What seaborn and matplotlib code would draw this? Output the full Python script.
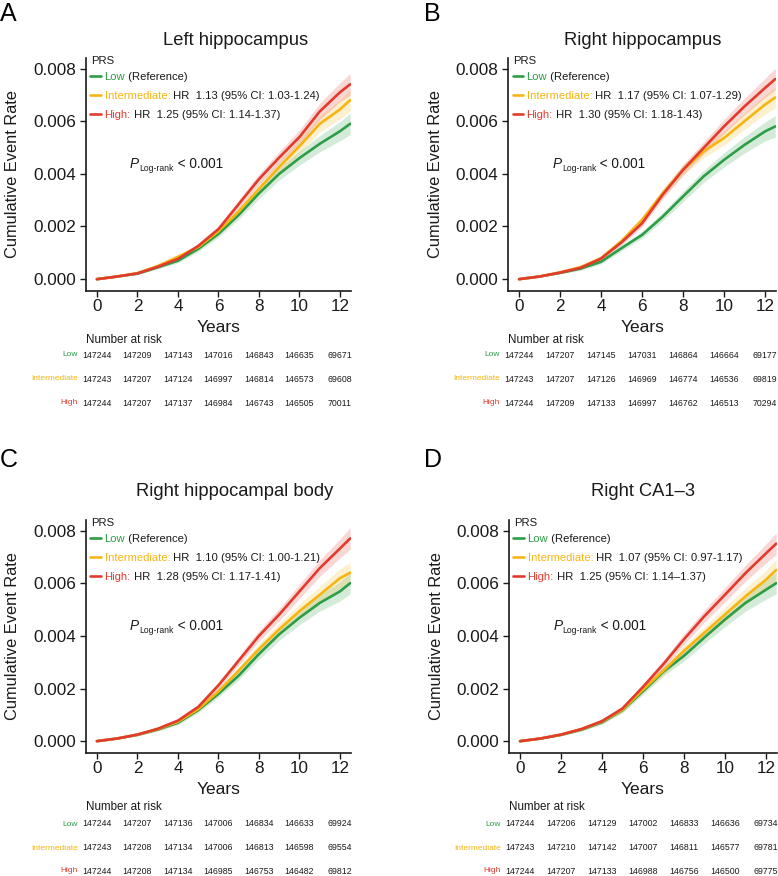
import numpy as np
import pandas as pd
import matplotlib
matplotlib.use("Agg")
import matplotlib.pyplot as plt
import seaborn as sns

sns.set_style("ticks")
plt.rcParams['font.family'] = ['Liberation Sans', 'DejaVu Sans']

# time grid (years)
years = [0, 1, 2, 3, 4, 5, 6, 7, 8, 9, 10, 11, 12, 12.5]
# approximate half-width of the shaded 95% band
ci_half = [0, 0.00002, 0.00004, 0.00006, 0.00008, 0.0001, 0.00013, 0.00016,
           0.0002, 0.00023, 0.00027, 0.00031, 0.00036, 0.00041]

groups = ["Low", "Intermediate", "High"]
colors = {"Low": "#2e9d47", "Intermediate": "#f6b512", "High": "#e23b2e"}
legend_labels = ["Low", "Intermediate:", "High:"]

# A - Left hippocampus
a_low = [0, 0.0001, 0.00021, 0.00045, 0.0007, 0.00115, 0.00172, 0.00244, 0.00326, 0.004, 0.0046, 0.00514, 0.00562, 0.0059]
a_int = [0, 0.0001, 0.00023, 0.0005, 0.00085, 0.00122, 0.00182, 0.00257, 0.00343, 0.00426, 0.00505, 0.0059, 0.00645, 0.0068]
a_high = [0, 0.0001, 0.00022, 0.00047, 0.00077, 0.00126, 0.0019, 0.00285, 0.0038, 0.00462, 0.0054, 0.00637, 0.0071, 0.0074]
a_hr = ["(Reference)", "HR  1.13 (95% CI: 1.03-1.24)", "HR  1.25 (95% CI: 1.14-1.37)"]
a_risk_low = [147244, 147209, 147143, 147016, 146843, 146635, 69671]
a_risk_int = [147243, 147207, 147124, 146997, 146814, 146573, 69608]
a_risk_high = [147244, 147207, 147137, 146984, 146743, 146505, 70011]

# B - Right hippocampus
b_low = [0, 0.0001, 0.00024, 0.0004, 0.00066, 0.00118, 0.00168, 0.00237, 0.00314, 0.0039, 0.00453, 0.0051, 0.00561, 0.0058]
b_int = [0, 0.0001, 0.00026, 0.00046, 0.0008, 0.00145, 0.00225, 0.00326, 0.00415, 0.00485, 0.00536, 0.006, 0.00663, 0.0069]
b_high = [0, 0.0001, 0.00025, 0.00043, 0.00078, 0.0014, 0.00212, 0.0032, 0.00415, 0.00498, 0.0058, 0.00656, 0.00726, 0.0076]
b_hr = ["(Reference)", "HR  1.17 (95% CI: 1.07-1.29)", "HR  1.30 (95% CI: 1.18-1.43)"]
b_risk_low = [147244, 147207, 147145, 147031, 146864, 146664, 69177]
b_risk_int = [147243, 147207, 147126, 146969, 146774, 146536, 69819]
b_risk_high = [147244, 147209, 147133, 146997, 146762, 146513, 70294]

# C - Right hippocampal body
c_low = [0, 0.0001, 0.00024, 0.00044, 0.0007, 0.00118, 0.0018, 0.00249, 0.00331, 0.00406, 0.00469, 0.00525, 0.00569, 0.006]
c_int = [0, 0.0001, 0.00025, 0.00046, 0.00074, 0.00122, 0.00189, 0.00268, 0.0035, 0.00425, 0.00494, 0.00556, 0.00619, 0.0064]
c_high = [0, 0.0001, 0.00025, 0.00047, 0.00078, 0.0013, 0.00212, 0.00306, 0.004, 0.00481, 0.00569, 0.00657, 0.00732, 0.0077]
c_hr = ["(Reference)", "HR  1.10 (95% CI: 1.00-1.21)", "HR  1.28 (95% CI: 1.17-1.41)"]
c_risk_low = [147244, 147207, 147136, 147006, 146834, 146633, 69924]
c_risk_int = [147243, 147208, 147134, 147006, 146813, 146598, 69554]
c_risk_high = [147244, 147208, 147134, 146985, 146753, 146482, 69812]

# D - Right CA1-3
d_low = [0, 0.0001, 0.00024, 0.00044, 0.00072, 0.00118, 0.0019, 0.00264, 0.00324, 0.00394, 0.00462, 0.00525, 0.00575, 0.006]
d_int = [0, 0.0001, 0.00025, 0.00046, 0.00075, 0.0012, 0.00196, 0.00268, 0.00343, 0.00412, 0.00481, 0.0055, 0.00613, 0.0065]
d_high = [0, 0.0001, 0.00025, 0.00046, 0.00076, 0.00124, 0.00206, 0.00293, 0.00387, 0.00475, 0.00556, 0.00638, 0.00713, 0.0075]
d_hr = ["(Reference)", "HR  1.07 (95% CI: 0.97-1.17)", "HR  1.25 (95% CI: 1.14\u20131.37)"]
d_risk_low = [147244, 147206, 147129, 147002, 146833, 146636, 69734]
d_risk_int = [147243, 147210, 147142, 147007, 146811, 146577, 69781]
d_risk_high = [147244, 147207, 147133, 146988, 146756, 146500, 69775]

risk_years = [0, 2, 4, 6, 8, 10, 12]

panels = [
    dict(letter="A", title="Left hippocampus", curves=[a_low, a_int, a_high], hr=a_hr,
         risk=[a_risk_low, a_risk_int, a_risk_high],
         rect=[0.1105, 0.6678, 0.3406, 0.266], title_xy=(0.303, 0.954), letter_xy=(0.0, 0.998),
         rows_px=[340, 355, 379, 403], ylab_x=-0.25),
    dict(letter="B", title="Right hippocampus", curves=[b_low, b_int, b_high], hr=b_hr,
         risk=[b_risk_low, b_risk_int, b_risk_high],
         rect=[0.653, 0.6678, 0.3445, 0.266], title_xy=(0.8265, 0.954), letter_xy=(0.545, 0.998),
         rows_px=[340, 355, 379, 403], ylab_x=-0.243),
    dict(letter="C", title="Right hippocampal body", curves=[c_low, c_int, c_high], hr=c_hr,
         risk=[c_risk_low, c_risk_int, c_risk_high],
         rect=[0.1105, 0.1404, 0.3406, 0.266], title_xy=(0.302, 0.4384), letter_xy=(0.0, 0.489),
         rows_px=[807, 824, 848, 871], ylab_x=-0.25),
    dict(letter="D", title="Right CA1\u20133", curves=[d_low, d_int, d_high], hr=d_hr,
         risk=[d_risk_low, d_risk_int, d_risk_high],
         rect=[0.6542, 0.1404, 0.3445, 0.266], title_xy=(0.8265, 0.4384), letter_xy=(0.545, 0.489),
         rows_px=[807, 824, 848, 871], ylab_x=-0.243),
]

W, H = 778, 876
fig = plt.figure(figsize=(W / 100, H / 100), dpi=100)
ink = "#1a1a1a"
leg_fs = 8.1

for p in panels:
    ax = fig.add_axes(p["rect"])
    rows = []
    for g, vals in zip(groups, p["curves"]):
        for t, v, h in zip(years, vals, ci_half):
            rows.append({"Years": t, "rate": v, "lo": v - h, "hi": v + h, "PRS": g})
    df = pd.DataFrame(rows)

    for g in groups:
        sub = df[df["PRS"] == g]
        ax.fill_between(sub["Years"], sub["lo"], sub["hi"], color=colors[g], alpha=0.2, lw=0)
    sns.lineplot(data=df, x="Years", y="rate", hue="PRS", hue_order=groups, palette=colors,
                 linewidth=1.9, errorbar=None, ax=ax)

    handles, _ = ax.get_legend_handles_labels()
    ax.get_legend().remove()
    leg = ax.legend(handles, legend_labels, loc="upper left", bbox_to_anchor=(0.0, 0.959),
                    borderaxespad=0, frameon=False, fontsize=leg_fs, handlelength=0.95,
                    handletextpad=0.3, labelspacing=0.8, borderpad=0.4)
    for txt, g, extra in zip(leg.get_texts(), groups, p["hr"]):
        txt.set_color(colors[g])
        ax.annotate(" " + extra, xy=(1, 0), xycoords=txt, va="bottom", ha="left",
                    fontsize=leg_fs, color=ink, zorder=6)
    ax.text(0.018, 1.01, "PRS", transform=ax.transAxes, fontsize=leg_fs, color=ink, va="top")

    # log-rank p value
    pt = ax.text(0.165, 0.53, "P", transform=ax.transAxes, fontsize=9.8, style="italic",
                 color=ink, va="baseline")
    sb = ax.annotate("Log-rank", xy=(1, 0), xycoords=pt, xytext=(0.3, -0.4),
                     textcoords="offset points", fontsize=6.2, color=ink, va="baseline")
    ax.annotate(" < 0.001", xy=(1, 0), xycoords=(sb, pt), va="bottom", ha="left",
                fontsize=9.8, color=ink)

    ax.set_xlim(-0.54, 12.54)
    ax.set_ylim(-0.00045, 0.0084)
    ax.set_xticks(range(0, 13, 2))
    ax.set_yticks([0, 0.002, 0.004, 0.006, 0.008])
    ax.set_yticklabels([f"{v:.3f}" for v in [0, 0.002, 0.004, 0.006, 0.008]])
    ax.tick_params(axis="both", labelsize=12.3, length=4, width=1.0, color=ink, labelcolor=ink)
    ax.tick_params(axis="x", pad=2)
    ax.tick_params(axis="y", pad=3)
    for s in ["left", "bottom"]:
        ax.spines[s].set_linewidth(1.2)
        ax.spines[s].set_color(ink)
    sns.despine(ax=ax)
    ax.set_xlabel("Years", fontsize=12.5, color=ink)
    ax.xaxis.set_label_coords(0.5, -0.125)
    ax.set_ylabel("Cumulative Event Rate", fontsize=11.8, color=ink)
    ax.yaxis.set_label_coords(p["ylab_x"], 0.5)

    # number at risk table
    r = p["rows_px"]
    ax.annotate("Number at risk", xy=(0.0, 1 - r[0] / H), xycoords=("axes fraction", "figure fraction"),
                ha="left", va="center", fontsize=8.4, color=ink)
    for i, g in enumerate(groups):
        y = 1 - r[i + 1] / H
        ax.annotate(g, xy=(-0.03, y), xycoords=("axes fraction", "figure fraction"),
                    ha="right", va="center", fontsize=6.0, color=colors[g])
        for t, n in zip(risk_years, p["risk"][i]):
            ax.annotate(str(n), xy=(t, y), xycoords=("data", "figure fraction"),
                        ha="center", va="center", fontsize=6.3, color=ink, annotation_clip=False)

    fig.text(p["title_xy"][0], p["title_xy"][1], p["title"], ha="center", va="center",
             fontsize=13.2, color=ink)
    fig.text(p["letter_xy"][0], p["letter_xy"][1], p["letter"], ha="left", va="top",
             fontsize=18, color="black")

fig.canvas.draw()
fig.savefig("out.png", dpi=100)
